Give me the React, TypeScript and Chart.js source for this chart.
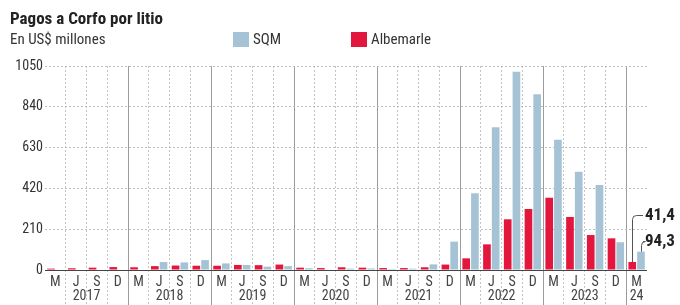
import React, { useEffect, useRef } from "react";
import { Chart, registerables } from "chart.js";

Chart.register(...registerables);

const CATEGORIES = [
  "M", "J", "S", "D",
  "M", "J", "S", "D",
  "M", "J", "S", "D",
  "M", "J", "S", "D",
  "M", "J", "S", "D",
  "M", "J", "S", "D",
  "M", "J", "S", "D",
  "M",
];
const YEAR_LABELS = ["2017", "2018", "2019", "2020", "2021", "2022", "2023", "24"];
const QUARTERS_PER_YEAR = 4;

const ALBEMARLE = [
  7, 9, 12, 15,
  14, 20, 23, 22,
  22, 26, 25, 28,
  12, 10, 14, 12,
  10, 10, 14, 28,
  60, 132, 261, 314,
  372, 273, 180, 163,
  41.4,
];
const SQM = [
  0, 0, 0, 0,
  0, 41, 39, 51,
  34, 26, 17, 20,
  9, 3, 7, 8,
  5, 7, 29, 146,
  395, 735, 1021, 905,
  670, 506, 438, 143,
  94.3,
];
const Y_MAX = 1050;
const Y_STEP = 210;

const RED = "#e3173e";
const BLUE = "#a6c3d6";
const FONT = '"Liberation Sans Narrow", "Roboto Condensed", "DejaVu Sans Condensed", Roboto, sans-serif';

const fmt = (v: number) => String(v).replace(".", ",");

const yearPlugin = {
  id: "yearLabels",
  afterDraw(chart: any) {
    const x = chart.scales.x;
    const ctx = chart.ctx;
    ctx.save();
    ctx.font = `14px ${FONT}`;
    ctx.fillStyle = "#444";
    ctx.textAlign = "center";
    ctx.textBaseline = "middle";
    YEAR_LABELS.forEach((label, i) => {
      const start = i * QUARTERS_PER_YEAR;
      const end = Math.min(start + QUARTERS_PER_YEAR - 1, CATEGORIES.length - 1);
      const cx = (x.getPixelForValue(start) + x.getPixelForValue(end)) / 2;
      ctx.fillText(label, cx, x.bottom - 9);
    });
    ctx.restore();
  },
};

const lastValuePlugin = {
  id: "lastValues",
  afterDatasetsDraw(chart: any) {
    const ctx = chart.ctx;
    const area = chart.chartArea;
    const last = CATEGORIES.length - 1;
    const items = [
      { ds: 0, value: ALBEMARLE[last], rise: 47 },
      { ds: 1, value: SQM[last], rise: 11 },
    ];
    ctx.save();
    ctx.strokeStyle = "#555";
    ctx.lineWidth = 1;
    ctx.fillStyle = "#222";
    ctx.font = `bold 17px ${FONT}`;
    ctx.textAlign = "left";
    ctx.textBaseline = "middle";
    items.forEach((it) => {
      const el = chart.getDatasetMeta(it.ds).data[last];
      const bx = Math.round(el.x) + 0.5;
      const by = el.y;
      const ly = Math.round(by - it.rise) + 0.5;
      const tx = area.right - 2;
      ctx.beginPath();
      ctx.moveTo(bx, by);
      ctx.arcTo(bx, ly, bx + 4, ly, 4);
      ctx.lineTo(tx - 2, ly);
      ctx.stroke();
      ctx.fillText(fmt(it.value), tx, ly);
    });
    ctx.restore();
  },
};

export default function App() {
  const canvasRef = useRef<HTMLCanvasElement | null>(null);

  useEffect(() => {
    if (!canvasRef.current) return;
    const chart = new Chart(canvasRef.current, {
      type: "bar",
      data: {
        labels: CATEGORIES,
        datasets: [
          {
            label: "Albemarle",
            data: ALBEMARLE,
            backgroundColor: RED,
            categoryPercentage: 0.84,
            barPercentage: 0.88,
          },
          {
            label: "SQM",
            data: SQM,
            backgroundColor: BLUE,
            categoryPercentage: 0.84,
            barPercentage: 0.88,
          },
        ],
      },
      options: {
        animation: false,
        responsive: true,
        maintainAspectRatio: false,
        layout: { padding: { top: 66, right: 33, left: 0, bottom: 0 } },
        plugins: { legend: { display: false }, tooltip: { enabled: false }, title: { display: false } },
        scales: {
          x: {
            grid: {
              offset: true,
              drawOnChartArea: true,
              drawTicks: true,
              tickLength: 35,
              color: (c: any) => {
                if (c.type !== "tick" || c.index === 0) return "rgba(0,0,0,0)";
                return c.index % QUARTERS_PER_YEAR === 0 ? "#9c9c9c" : "#c4c4c4";
              },
              tickColor: (c: any) => {
                if (c.type !== "tick" || c.index === 0) return "rgba(0,0,0,0)";
                return c.index % QUARTERS_PER_YEAR === 0 ? "#9c9c9c" : "#c4c4c4";
              },
              tickBorderDash: (c: any) =>
                c.type === "tick" && c.index % QUARTERS_PER_YEAR === 0 ? [] : [2, 2],
            } as any,
            border: {
              display: false,
              dash: (c: any) =>
                c.type === "tick" && c.index % QUARTERS_PER_YEAR === 0 ? [] : [2, 2],
            } as any,
            ticks: {
              autoSkip: false,
              maxRotation: 0,
              minRotation: 0,
              padding: -31,
              color: "#444",
              font: { family: FONT, size: 14 },
            },
            afterFit: (s: any) => {
              s.height = 35;
            },
          },
          y: {
            min: 0,
            max: Y_MAX,
            grid: {
              drawTicks: false,
              color: (c: any) => (c.tick && c.tick.value === 0 ? "#444" : "#bdbdbd"),
            },
            border: {
              display: false,
              dash: (c: any) => (c.tick && c.tick.value === 0 ? [] : [2, 2]),
            } as any,
            ticks: {
              stepSize: Y_STEP,
              padding: 2,
              color: "#333",
              font: { family: FONT, size: 14 },
              callback: (v: any) => String(v),
            },
            afterFit: (s: any) => {
              s.width = 45;
            },
          },
        },
      },
      plugins: [yearPlugin, lastValuePlugin],
    });
    return () => chart.destroy();
  }, []);

  const abs: React.CSSProperties = { position: "absolute", whiteSpace: "nowrap", fontFamily: FONT, lineHeight: 1 };

  return (
    <div style={{ position: "absolute", left: 0, top: 0, width: 680, height: 305, background: "#fff" }}>
      <canvas ref={canvasRef} />
      <div style={{ ...abs, left: 10, top: 10, fontSize: 17, fontWeight: 700, color: "#222" }}>
        Pagos a Corfo por litio
      </div>
      <div style={{ ...abs, left: 10, top: 32, fontSize: 15, color: "#333" }}>En US$ millones</div>
      <div style={{ ...abs, left: 233, top: 32, width: 16, height: 15, background: BLUE }} />
      <div style={{ ...abs, left: 253, top: 32, fontSize: 15, color: "#333" }}>SQM</div>
      <div style={{ ...abs, left: 351, top: 32, width: 16, height: 15, background: RED }} />
      <div style={{ ...abs, left: 371, top: 32, fontSize: 15, color: "#333" }}>Albemarle</div>
    </div>
  );
}
